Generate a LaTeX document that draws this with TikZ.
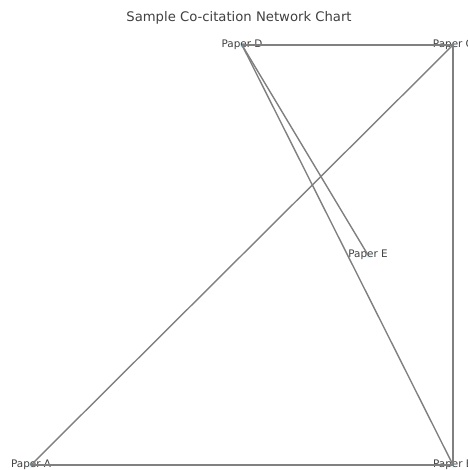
\documentclass[tikz,border=0pt]{standalone}
\usepackage{fontspec}
\setmainfont{DejaVu Sans}

\begin{document}
\begin{tikzpicture}[
    x=1pt, y=1pt,
    % Estilos de los nodos
    paper/.style={inner sep=0pt, font=\fontsize{10.4}{11}\selectfont, text=black!75},
    dot/.style={circle, fill=cyan!12, inner sep=2pt},
    % Estilos de líneas
    cite/.style={draw=black!50, line width=1.4pt}
]
% Marco del dibujo
\useasboundingbox (0,0) rectangle (467,470);
\clip (0,0) rectangle (467,470);

% Titulo
\node[font=\fontsize{13.2}{14}\selectfont, text=black!75] (title) at (239,452) {Sample Co-citation Network Chart};

% Nodos (articulos)
\node[dot] (a) at (31,5) {};
\node[dot] (b) at (453,5) {};
\node[dot] (c) at (453,425) {};
\node[dot] (d) at (242,425) {};
\node[dot] (e) at (368,215) {};

\node[paper] (la) at (a) {Paper A};
\node[paper] (lb) at (b) {Paper B};
\node[paper] (lc) at (c) {Paper C};
\node[paper] (ld) at (d) {Paper D};
\node[paper] (le) at (e) {Paper E};

% Aristas de co-citacion
\draw[cite] (a.center) -- (b.center);
\draw[cite] (a.center) -- (c.center);
\draw[cite] (b.center) -- (c.center);
\draw[cite] (d.center) -- (c.center);
\draw[cite] (d.center) -- (b.center);
\draw[cite] (d.center) -- (e.center);

\end{tikzpicture}
\end{document}
